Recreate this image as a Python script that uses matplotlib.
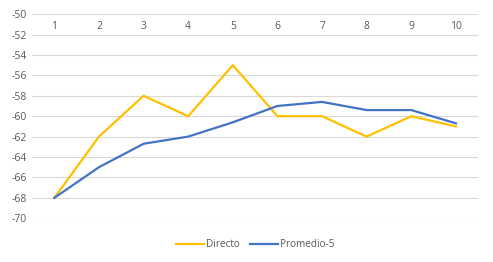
import matplotlib.pyplot as plt

categories = [1, 2, 3, 4, 5, 6, 7, 8, 9, 10]
directo = [-68, -62, -58, -60, -55, -60, -60, -62, -60, -61]
promedio_5 = [-68, -65, -62.7, -62, -60.6, -59, -58.6, -59.4, -59.4, -60.7]
y_ticks = [-70, -68, -66, -64, -62, -60, -58, -56, -54, -52, -50]

plt.rcParams['font.family'] = ['Open Sans', 'DejaVu Sans']

fig = plt.figure(figsize=(4.93, 2.62), dpi=100)
ax = fig.add_axes([0.065, 0.167, 0.905, 0.779])

x = list(range(len(categories)))
ax.plot(x, directo, color='#FFC000', linewidth=1.6, label='Directo')
ax.plot(x, promedio_5, color='#4472C4', linewidth=1.6, label='Promedio-5')

ax.set_xlim(-0.5, len(categories) - 0.5)
ax.set_ylim(-70, -50)
ax.set_yticks(y_ticks)
ax.set_yticklabels([str(v) for v in y_ticks])
ax.set_xticks(x)
ax.set_xticklabels([str(c) for c in categories])

ax.grid(axis='y', color='#D9D9D9', linewidth=0.8)
ax.set_axisbelow(True)
for s in ax.spines.values():
    s.set_visible(False)

ax.tick_params(axis='y', length=0, labelsize=7.5, colors='#595959', pad=4)
ax.tick_params(axis='x', length=0, labelsize=7.5, colors='#595959',
               top=True, labeltop=True, bottom=False, labelbottom=False, pad=-13)

ax.legend(loc='lower center', bbox_to_anchor=(0.5, -0.2), ncol=2, frameon=False,
          fontsize=7.2, labelcolor='#595959', handlelength=2.8, handletextpad=0.25,
          columnspacing=1.0)

plt.savefig('out.png', dpi=100)
